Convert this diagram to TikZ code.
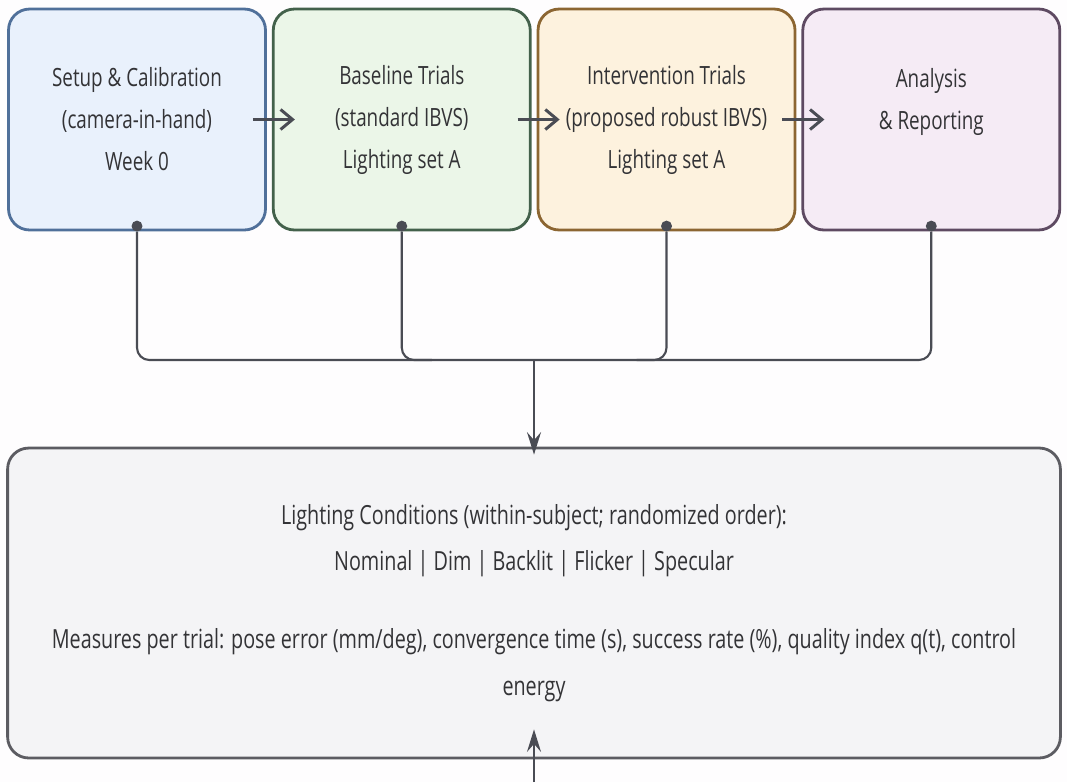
\documentclass[tikz,border=0pt]{standalone}
\usepackage{fontspec}
\setmainfont{Open Sans}[FakeStretch=0.75]
\usepackage{xcolor}
\usepackage{tikz}
\usetikzlibrary{positioning,arrows.meta}
\definecolor{ibvsink}{HTML}{333336}
\definecolor{ibvswire}{HTML}{4A4C54}
\definecolor{ibvsbg}{HTML}{FEFDFE}
\definecolor{setupfill}{HTML}{E9F1FC}
\definecolor{setupline}{HTML}{50709A}
\definecolor{basefill}{HTML}{EBF6E8}
\definecolor{baseline}{HTML}{43614B}
\definecolor{interfill}{HTML}{FDF2DE}
\definecolor{interline}{HTML}{8C6632}
\definecolor{reportfill}{HTML}{F5EBF5}
\definecolor{reportline}{HTML}{5E4A62}
\definecolor{condfill}{HTML}{F4F4F6}
\definecolor{condline}{HTML}{5C5C62}

\begin{document}
\begin{tikzpicture}[x=0.02cm,y=-0.02cm,
  phase/.style={draw,line width=1.6pt,rounded corners=12pt,minimum width=51.4mm,minimum height=44.2mm,align=center,text=ibvsink,font=\fontsize{14.3}{23.9}\selectfont},
  panel/.style={draw=condline,fill=condfill,line width=1.6pt,rounded corners=12pt,minimum width=210.6mm,minimum height=62mm,align=center,text=ibvsink,font=\fontsize{15}{26.5}\selectfont},
  dot/.style={circle,fill=ibvswire,inner sep=0pt,minimum size=2.2mm},
  wire/.style={ibvswire,line width=1.2pt,rounded corners=7pt},
  flow/.style={-{Straight Barb[length=2.4mm,width=4mm]},ibvswire,line width=1.7pt,shorten <=-0.28cm,shorten >=-0.46cm},
  down/.style={-{Stealth[length=4.5mm,width=2.8mm,inset=1.6mm]},ibvswire,line width=1.2pt}
]
\fill[ibvsbg] (0,0) rectangle (1067,782);
\useasboundingbox (0,0) rectangle (1067,782);

\node[phase,draw=setupline,fill=setupfill] (setup) at (137,119.5) {Setup \& Calibration\\(camera-in-hand)\\Week 0};
\node[phase,draw=baseline,fill=basefill,right=1mm of setup] (base) {Baseline Trials\\(standard IBVS)\\Lighting set A};
\node[phase,draw=interline,fill=interfill,right=1mm of base] (inter) {Intervention Trials\\(proposed robust IBVS)\\Lighting set A};
\node[phase,draw=reportline,fill=reportfill,right=1mm of inter] (report) {Analysis\\\& Reporting\\\mbox{}};

\node[panel] (cond) at (534,603) {Lighting Conditions (within-subject; randomized order):\\Nominal | Dim | Backlit | Flicker | Specular\\[18pt]Measures per trial: pose error (mm/deg), convergence time (s), success rate (\%), quality index q(t), control\\energy};

\draw[flow] (setup.east) -- (base.west);
\draw[flow] (base.east) -- (inter.west);
\draw[flow] (inter.east) -- (report.west);

\foreach \b in {setup,base,inter,report}
  \node[dot] (\b-dot) at ([yshift=3pt]\b.south) {};

\coordinate (bus) at (cond.north |- 0,360);
\draw[wire] (setup-dot) -- (setup-dot |- bus) -- (report-dot |- bus) -- (report-dot);
\draw[wire] (base-dot) -- (base-dot |- bus) -- ++(30,0);
\draw[wire] (inter-dot) -- (inter-dot |- bus) -- ++(-30,0);
\draw[down,shorten >=-0.16cm] (bus) -- (cond.north);

\coordinate (feed) at (cond.south |- 0,782);
\draw[down,shorten >=-0.6cm] (feed) -- (cond.south);
\end{tikzpicture}
\end{document}
